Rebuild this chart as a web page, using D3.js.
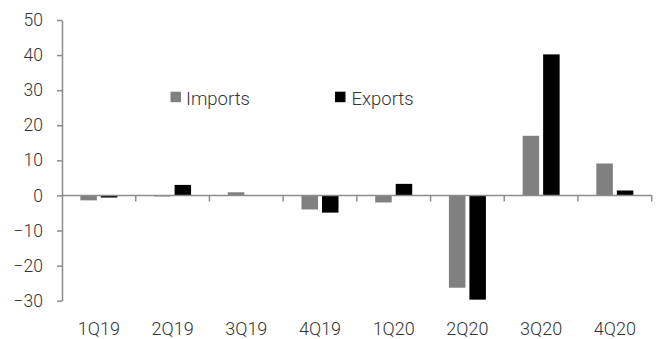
<!DOCTYPE html>
<html>
<head>
<meta charset="utf-8">
<script src="https://cdn.jsdelivr.net/npm/d3@7"></script>
<style>
  html, body { margin: 0; padding: 0; background: #fff; }
  svg { display: block; }
  text { font-family: Roboto, "Open Sans", sans-serif; font-weight: 300; fill: #333; }
</style>
</head>
<body>
<svg id="chart" width="657" height="339"></svg>
<script>
// Quarterly change, per cent
const quarters = ["1Q19", "2Q19", "3Q19", "4Q19", "1Q20", "2Q20", "3Q20", "4Q20"];
const imports = [-1.4, -0.3, 0.9, -4.0, -2.0, -26.3, 17.0, 9.1];
const exports = [-0.6, 3.0, 0.0, -4.9, 3.3, -29.7, 40.2, 1.4];
const yTicks = [-30, -20, -10, 0, 10, 20, 30, 40, 50];
const seriesNames = ["Imports", "Exports"];
const seriesColors = ["#808080", "#000000"];

const svg = d3.select("#chart");
const axisColor = "#8c8c8c";

const x = d3.scaleBand().domain(quarters).range([62, 651.7]).paddingInner(0).paddingOuter(0);
const y = d3.scaleLinear().domain([-30, 50]).range([300.7, 20]);

const barW = 16.5, gap = 4;
const rows = quarters.map((q, i) => ({ q, vals: [imports[i], exports[i]] }));

// Bars
const groups = svg.append("g").selectAll("g").data(rows).join("g")
  .attr("transform", d => `translate(${x(d.q)},0)`);
groups.selectAll("rect")
  .data(d => d.vals.map((v, j) => ({ v, j })))
  .join("rect")
  .attr("x", d => x.bandwidth() / 2 + (d.j === 0 ? -barW - gap / 2 : gap / 2))
  .attr("width", barW)
  .attr("y", d => y(Math.max(0, d.v)))
  .attr("height", d => Math.abs(y(d.v) - y(0)))
  .attr("fill", d => seriesColors[d.j]);

// Y axis
const yAxis = svg.append("g").attr("transform", "translate(62,0)")
  .call(d3.axisLeft(y).tickValues(yTicks).tickSize(5).tickSizeOuter(0).tickPadding(14));
yAxis.select(".domain").attr("stroke", axisColor).attr("stroke-width", 1.5);
yAxis.selectAll(".tick line").attr("stroke", axisColor).attr("stroke-width", 1.5);
yAxis.selectAll(".tick text").style("font-size", "17.5px").attr("fill", "#333")
  .style("font-family", "Roboto, sans-serif").style("font-weight", 300);

// Category axis along zero line, ticks at category boundaries
const boundaries = quarters.map(q => x(q) + x.bandwidth());
const zeroAxis = svg.append("g");
zeroAxis.append("line")
  .attr("x1", x.range()[0]).attr("x2", x.range()[1])
  .attr("y1", y(0)).attr("y2", y(0))
  .attr("stroke", axisColor).attr("stroke-width", 1.5);
zeroAxis.selectAll("line.tk").data(boundaries).join("line")
  .attr("class", "tk")
  .attr("x1", d => d).attr("x2", d => d)
  .attr("y1", y(0)).attr("y2", y(0) + 6)
  .attr("stroke", axisColor).attr("stroke-width", 1.5);

// Category labels at the bottom
svg.append("g").selectAll("text").data(quarters).join("text")
  .attr("x", d => x(d) + x.bandwidth() / 2)
  .attr("y", 335)
  .attr("text-anchor", "middle")
  .style("font-size", "18px")
  .text(d => d);

// Legend
const legendPos = [{ sx: 170.5, tx: 186 }, { sx: 335, tx: 351.5 }];
const legend = svg.append("g");
seriesNames.forEach((name, i) => {
  legend.append("rect")
    .attr("x", legendPos[i].sx).attr("y", 91.7)
    .attr("width", 10.5).attr("height", 10.5)
    .attr("fill", seriesColors[i]);
  legend.append("text")
    .attr("x", legendPos[i].tx).attr("y", 105)
    .style("font-size", "18.5px")
    .text(name);
});
</script>
</body>
</html>
